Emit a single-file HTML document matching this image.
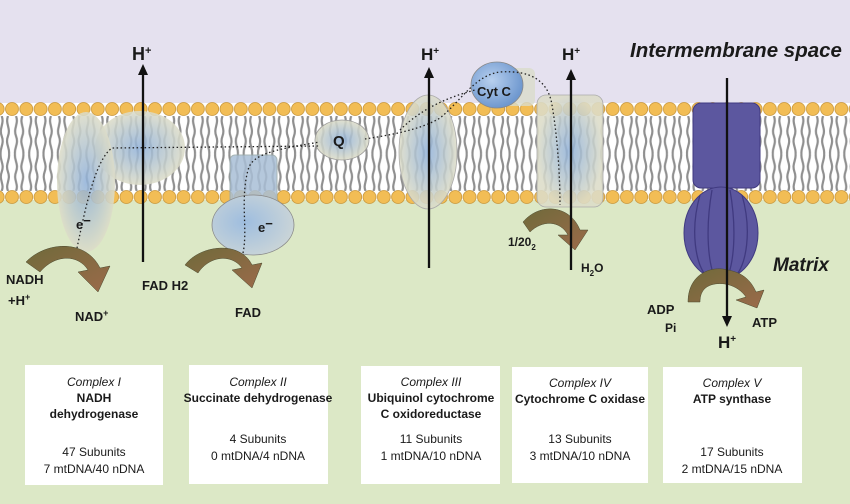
<!DOCTYPE html>
<html><head><meta charset="utf-8"><style>
body{margin:0;width:850px;height:504px;overflow:hidden;font-family:"Liberation Sans",sans-serif}
svg{display:block}
text{font-family:"Liberation Sans",sans-serif;font-weight:bold;fill:#1a1a1a}
.box text{font-weight:normal;font-size:12px;text-anchor:middle}
.box .b{font-weight:bold}
.box .i{font-style:italic}
</style></head><body>
<svg width="850" height="504" viewBox="0 0 850 504">
<defs>
<pattern id="headsT" x="5" y="99" width="14.3" height="20" patternUnits="userSpaceOnUse">
<circle cx="7" cy="10" r="6.5" fill="#f2bd55" stroke="#c8963a" stroke-width="0.8"/>
</pattern>
<pattern id="headsB" x="5" y="187" width="14.3" height="20" patternUnits="userSpaceOnUse">
<circle cx="7" cy="10" r="6.5" fill="#f2bd55" stroke="#c8963a" stroke-width="0.8"/>
</pattern>
<pattern id="tailsT" x="5" y="116" width="14.3" height="38" patternUnits="userSpaceOnUse">
<path d="M3 0 C0 8 6 12 3 20 C0 28 5 32 4 38 M11 0 C14 8 8 12 11 20 C14 28 9 32 10 38" fill="none" stroke="#8f8f8f" stroke-width="2.2"/>
</pattern>
<pattern id="tailsB" x="5" y="154" width="14.3" height="37" patternUnits="userSpaceOnUse">
<path d="M4 0 C5 6 0 10 3 18 C6 26 0 30 3 37 M10 0 C9 6 14 10 11 18 C8 26 14 30 11 37" fill="none" stroke="#8f8f8f" stroke-width="2.2"/>
</pattern>
<radialGradient id="prot" cx="50%" cy="50%" r="50%"><stop offset="0" stop-color="#8fb0d8" stop-opacity="0.85"/><stop offset="1" stop-color="#dcdcc8" stop-opacity="0.88"/></radialGradient>
<radialGradient id="blue" cx="40%" cy="40%" r="60%"><stop offset="0" stop-color="#b8d0ee"/><stop offset="1" stop-color="#6f98cf"/></radialGradient>
<radialGradient id="blue2" cx="40%" cy="45%" r="60%"><stop offset="0" stop-color="#9ebddf"/><stop offset="1" stop-color="#c9d4d8"/></radialGradient>
<linearGradient id="arr" x1="0" y1="0" x2="1" y2="1"><stop offset="0" stop-color="#6f6a3a"/><stop offset="1" stop-color="#9b6a4a"/></linearGradient>
</defs>
<rect width="850" height="504" fill="#dce8c6"/>
<rect width="850" height="103" fill="#e5e1ef"/>
<rect y="103" width="850" height="97" fill="#fff"/>
<rect y="116" width="850" height="38" fill="url(#tailsT)"/>
<rect y="154" width="850" height="37" fill="url(#tailsB)"/>
<rect y="99" width="850" height="20" fill="url(#headsT)"/>
<rect y="187" width="850" height="20" fill="url(#headsB)"/>

<ellipse cx="140" cy="148" rx="45" ry="37" fill="url(#prot)"/>
<ellipse cx="86" cy="182" rx="29" ry="70" fill="url(#prot)"/>
<rect x="230" y="155" width="47" height="53" rx="5" fill="#a9bfd6" opacity="0.85" stroke="#9aa"/>
<ellipse cx="253" cy="225" rx="41" ry="30" fill="url(#blue2)" stroke="#888" stroke-width="0.8"/>
<ellipse cx="342" cy="140" rx="27" ry="20" fill="url(#prot)" stroke="#999" stroke-width="0.8"/>
<ellipse cx="428" cy="152" rx="29" ry="57" fill="url(#prot)" stroke="#aaa" stroke-width="0.8"/>
<rect x="490" y="68" width="45" height="38" rx="6" fill="#d9dccb" opacity="0.8"/>
<ellipse cx="497" cy="85" rx="26" ry="23" fill="url(#blue)" stroke="#888" stroke-width="0.8"/>
<rect x="537" y="95" width="66" height="112" rx="9" fill="url(#prot)" stroke="#aaa" stroke-width="0.8"/>
<rect x="693" y="103" width="67" height="85" rx="8" fill="#5c579f" stroke="#403a80"/>
<ellipse cx="721" cy="233" rx="37" ry="46" fill="#5c579f" stroke="#403a80"/>
<path d="M700 195 C690 230 695 265 708 278 M712 190 C705 230 708 265 716 280 M730 190 C737 230 734 265 726 280 M742 195 C752 230 747 265 734 278" fill="none" stroke="#403a80" stroke-width="1.3"/>

<g fill="none" stroke="#222" stroke-width="1.3" stroke-dasharray="1.5 2.5">
<path d="M77 248 C85 210 95 160 112 148 L320 146"/>
<path d="M243 253 C248 230 240 200 248 170 C252 155 270 150 320 142"/>
<path d="M365 139 C390 135 420 130 440 118 C460 102 475 75 500 72 C530 70 548 80 552 105 C558 140 560 180 560 205"/>
<path d="M400 130 C420 110 445 98 475 90"/>
</g>

<g fill="url(#arr)" stroke="#4a4a30" stroke-width="0.5">
<path d="M26 262 C45 242 85 238 100 268 L110 266 L98 292 L78 272 L88 270 C78 254 55 254 40 272 Z"/>
<path d="M185 265 C200 245 240 240 252 265 L262 263 L252 288 L232 270 L242 268 C232 254 210 255 198 273 Z"/>
<path d="M523 222 C540 202 570 205 580 230 L588 230 L575 250 L558 235 L568 235 C560 220 542 220 530 232 Z"/>
<path d="M688 302 C688 275 710 265 728 270 C745 273 752 283 756 292 L764 290 L757 308 L736 300 L746 297 C740 288 728 282 715 284 C703 286 700 294 700 302 Z"/>
</g>

<g stroke="#111" stroke-width="2.3">
<line x1="143" y1="262" x2="143" y2="72"/>
<line x1="429" y1="268" x2="429" y2="75"/>
<line x1="571" y1="270" x2="571" y2="77"/>
<line x1="727" y1="78" x2="727" y2="318"/>
</g>
<g fill="#111">
<path d="M138 75 L143 64 L148 75 Z"/>
<path d="M424 78 L429 67 L434 78 Z"/>
<path d="M566 80 L571 69 L576 80 Z"/>
<path d="M722 316 L727 327 L732 316 Z"/>
</g>

<text x="132" y="60" font-size="18">H<tspan font-size="11" dy="-6">+</tspan></text>
<text x="421" y="60" font-size="17">H<tspan font-size="10" dy="-6">+</tspan></text>
<text x="562" y="60" font-size="17">H<tspan font-size="10" dy="-6">+</tspan></text>
<text x="718" y="348" font-size="17">H<tspan font-size="10" dy="-6">+</tspan></text>
<text x="630" y="57" font-size="20.5" font-style="italic">Intermembrane space</text>
<text x="773" y="271" font-size="19" font-style="italic">Matrix</text>
<text x="333" y="146" font-size="15">Q</text>
<text x="477" y="96" font-size="13">Cyt C</text>
<text x="76" y="229" font-size="13" font-weight="normal">e<tspan dy="-4">−</tspan></text>
<text x="258" y="232" font-size="13" font-weight="normal">e<tspan dy="-4">−</tspan></text>
<text x="6" y="284" font-size="13">NADH</text>
<text x="8" y="305" font-size="13">+H<tspan font-size="9" dy="-5">+</tspan></text>
<text x="75" y="321" font-size="13">NAD<tspan font-size="9" dy="-5">+</tspan></text>
<text x="142" y="290" font-size="13">FAD H2</text>
<text x="235" y="317" font-size="13">FAD</text>
<text x="508" y="246" font-size="12">1/20<tspan font-size="8" dy="4">2</tspan></text>
<text x="581" y="272" font-size="12">H<tspan font-size="8" dy="4">2</tspan><tspan dy="-4">O</tspan></text>
<text x="647" y="314" font-size="13">ADP</text>
<text x="665" y="332" font-size="12">Pi</text>
<text x="752" y="327" font-size="13">ATP</text>

<g class="box">
<rect x="25" y="365" width="138" height="120" fill="#fff"/>
<rect x="189" y="365" width="139" height="119" fill="#fff"/>
<rect x="361" y="366" width="139" height="118" fill="#fff"/>
<rect x="512" y="367" width="136" height="116" fill="#fff"/>
<rect x="663" y="367" width="139" height="116" fill="#fff"/>
<text x="94" y="386" class="i">Complex I</text>
<text x="94" y="402" class="b">NADH</text>
<text x="94" y="418" class="b">dehydrogenase</text>
<text x="94" y="456">47 Subunits</text>
<text x="94" y="473">7 mtDNA/40 nDNA</text>
<text x="258" y="386" class="i">Complex II</text>
<text x="258" y="402" class="b">Succinate dehydrogenase</text>
<text x="258" y="443">4 Subunits</text>
<text x="258" y="460">0 mtDNA/4 nDNA</text>
<text x="431" y="386" class="i">Complex III</text>
<text x="431" y="402" class="b">Ubiquinol cytochrome</text>
<text x="431" y="418" class="b">C oxidoreductase</text>
<text x="431" y="443">11 Subunits</text>
<text x="431" y="460">1 mtDNA/10 nDNA</text>
<text x="580" y="387" class="i">Complex IV</text>
<text x="580" y="403" class="b">Cytochrome C oxidase</text>
<text x="580" y="443">13 Subunits</text>
<text x="580" y="460">3 mtDNA/10 nDNA</text>
<text x="732" y="387" class="i">Complex V</text>
<text x="732" y="403" class="b">ATP synthase</text>
<text x="732" y="456">17 Subunits</text>
<text x="732" y="473">2 mtDNA/15 nDNA</text>
</g>
</svg>
</body></html>
